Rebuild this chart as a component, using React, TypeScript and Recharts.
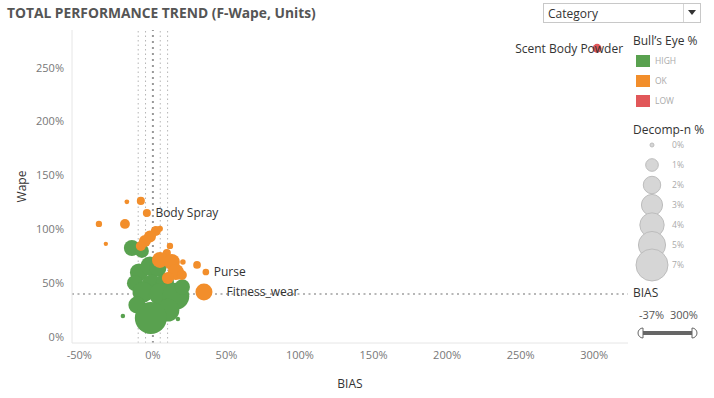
import { ScatterChart, Scatter, XAxis, YAxis, ZAxis, ReferenceLine } from "recharts";

// bias %, wape %, decomp-n % (bubble size), optional category label
type Pt = { bias: number; wape: number; decomp: number; name?: string };

const HIGH: Pt[] = [
	{ bias: -14.3, wape: 82.7, decomp: 1.67 },
	{ bias: -7.5, wape: 80, decomp: 1.25 },
	{ bias: -9.5, wape: 60, decomp: 2.15 },
	{ bias: -12.2, wape: 50, decomp: 1.67 },
	{ bias: -2, wape: 66, decomp: 2.4 },
	{ bias: 3.4, wape: 64, decomp: 1.9 },
	{ bias: -0.7, wape: 48.3, decomp: 2.9 },
	{ bias: 8.2, wape: 51, decomp: 2.15 },
	{ bias: -6.8, wape: 41.8, decomp: 2.9 },
	{ bias: 4.8, wape: 40, decomp: 3.25 },
	{ bias: 15.6, wape: 38, decomp: 4.9 },
	{ bias: 10.2, wape: 25, decomp: 3.5 },
	{ bias: -10.9, wape: 29.7, decomp: 1.9 },
	{ bias: 20, wape: 46.5, decomp: 1.5 },
	{ bias: -1.4, wape: 17.7, decomp: 7 },
	{ bias: -20.4, wape: 19.5, decomp: 0.03 },
	{ bias: 17, wape: 16.7, decomp: 0.03 },
];

const OK: Pt[] = [
	{ bias: -8.2, wape: 126.4, decomp: 0.34 },
	{ bias: -17.7, wape: 125.5, decomp: 0.05 },
	{ bias: -4.1, wape: 115.2, decomp: 0.34, name: "Body Spray" },
	{ bias: -36.7, wape: 105, decomp: 0.17 },
	{ bias: -19, wape: 105, decomp: 0.56 },
	{ bias: -32, wape: 86.5, decomp: 0.02 },
	{ bias: 2, wape: 98.5, decomp: 0.58 },
	{ bias: 4.8, wape: 100.5, decomp: 0.13 },
	{ bias: -2, wape: 93.4, decomp: 0.89 },
	{ bias: -5.4, wape: 89.2, decomp: 0.89 },
	{ bias: -8.2, wape: 84.6, decomp: 0.58 },
	{ bias: 11.6, wape: 84.6, decomp: 0.17 },
	{ bias: 9.5, wape: 78, decomp: 0.34 },
	{ bias: 4.8, wape: 71.6, decomp: 1.67 },
	{ bias: 12.9, wape: 69.7, decomp: 1.67 },
	{ bias: 15.6, wape: 60.4, decomp: 1.67 },
	{ bias: 10.2, wape: 54.8, decomp: 0.89 },
	{ bias: 19.7, wape: 57.6, decomp: 0.58 },
	{ bias: 20.4, wape: 69.7, decomp: 0.1 },
	{ bias: 30, wape: 67, decomp: 0.3 },
	{ bias: 36, wape: 60.4, decomp: 0.2, name: "Purse" },
	{ bias: 34.7, wape: 41.8, decomp: 1.9, name: "Fitness_wear" },
];

const LOW: Pt[] = [{ bias: 302, wape: 268, decomp: 0.44, name: "Scent Body Powder" }];

const xTicks = [-50, 0, 50, 100, 150, 200, 250, 300];
const yTicks = [0, 50, 100, 150, 200, 250];
const biasBands = [-10, -5, 5, 10];

const colorLegend = [
	{ label: "HIGH", color: "#59a14f" },
	{ label: "OK", color: "#f28e2b" },
	{ label: "LOW", color: "#e15759" },
];
const sizeLegend = [0, 1, 2, 3, 4, 5, 7];

const FONT = "'Open Sans', sans-serif";
const Z_RANGE: [number, number] = [12.6, 804];

const areaFor = (v: number) => Z_RANGE[0] + (v / 7) * (Z_RANGE[1] - Z_RANGE[0]);

// extra gap between bubble edge and its label
const labelGap: Record<string, number> = { "Fitness_wear": 14 };

function Bubble(props: any) {
	const { cx, cy, fill, payload, width } = props;
	const r = width ? width / 2 : 3;
	const name = payload?.name;
	let label = null;
	if (name) {
		const isEnd = name === "Scent Body Powder";
		label = (
			<text
				x={isEnd ? cx + 26 : cx + r + (labelGap[name] ?? 4.5)}
				y={cy}
				dy="0.35em"
				textAnchor={isEnd ? "end" : "start"}
				fontSize={12}
				fill="#333"
				fontFamily={FONT}
			>
				{name}
			</text>
		);
	}
	return (
		<g>
			<circle cx={cx} cy={cy} r={r} fill={fill} />
			{label}
		</g>
	);
}

export default function App() {
	return (
		<div
			style={{
				position: "absolute",
				left: 0,
				top: 0,
				width: 714,
				height: 398,
				background: "#fff",
				fontFamily: FONT,
				overflow: "hidden",
			}}
		>
			<div
				style={{
					position: "absolute",
					left: 7,
					top: 3,
					fontSize: 13.8,
					fontWeight: 700,
					color: "#555",
				}}
			>
				TOTAL PERFORMANCE TREND (F-Wape, Units)
			</div>

			<ScatterChart
				width={714}
				height={398}
				margin={{ top: 30, right: 86, bottom: 30, left: 0 }}
			>
				<XAxis
					type="number"
					dataKey="bias"
					domain={[-55, 323]}
					ticks={xTicks}
					tickFormatter={(v) => `${v}%`}
					axisLine={{ stroke: "#e6e6e6" }}
					tickLine={false}
					tick={{ fontSize: 11, fill: "#777", fontFamily: FONT }}
					height={25}
					label={{
						value: "BIAS",
						position: "insideBottom",
						offset: -20,
						fontSize: 12,
						fill: "#333",
						fontFamily: FONT,
					}}
				/>
				<YAxis
					type="number"
					dataKey="wape"
					domain={[-5.5, 285]}
					ticks={yTicks}
					tickFormatter={(v) => `${v}%`}
					axisLine={{ stroke: "#e6e6e6" }}
					tickLine={false}
					tick={{ fontSize: 11, fill: "#777", fontFamily: FONT }}
					width={72}
					label={{
						value: "Wape",
						angle: -90,
						position: "insideLeft",
						offset: 22,
						fontSize: 12,
						fill: "#333",
						fontFamily: FONT,
						style: { textAnchor: "middle" },
					}}
				/>
				<ZAxis type="number" dataKey="decomp" domain={[0, 7]} range={Z_RANGE} />
				<Scatter data={HIGH} fill="#59a14f" shape={Bubble} isAnimationActive={false} />
				<Scatter data={OK} fill="#f28e2b" shape={Bubble} isAnimationActive={false} />
				<Scatter data={LOW} fill="#e15759" shape={Bubble} isAnimationActive={false} />
				{biasBands.map((b) => (
					<ReferenceLine
						key={b}
						x={b}
						stroke="#b5b5b5"
						strokeWidth={1}
						strokeDasharray="1.5 3"
					/>
				))}
				<ReferenceLine x={0} stroke="#999" strokeWidth={2} strokeDasharray="2 4" />
				<ReferenceLine y={40} stroke="#a0a0a0" strokeWidth={1.5} strokeDasharray="2 3.5" />
			</ScatterChart>

			{/* Category dropdown */}
			<div
				style={{
					position: "absolute",
					left: 543,
					top: 3,
					width: 156,
					height: 18,
					border: "1px solid #c8c8c8",
					fontSize: 12,
					color: "#333",
					boxSizing: "content-box",
				}}
			>
				<span style={{ position: "absolute", left: 4, top: 1 }}>Category</span>
				<div
					style={{
						position: "absolute",
						left: 139,
						top: 0,
						width: 1,
						height: 18,
						background: "#d5d5d5",
					}}
				/>
				<svg style={{ position: "absolute", left: 144, top: 6 }} width={9} height={6}>
					<path d="M0,0 L8,0 L4,5 Z" fill="#333" />
				</svg>
			</div>

			{/* Bull's Eye legend */}
			<div style={{ position: "absolute", left: 633, top: 32, fontSize: 12, color: "#333" }}>
				Bull’s Eye %
			</div>
			{colorLegend.map((c, i) => (
				<div key={c.label}>
					<div
						style={{
							position: "absolute",
							left: 636,
							top: 55 + i * 20,
							width: 14,
							height: 12,
							background: c.color,
						}}
					/>
					<div
						style={{
							position: "absolute",
							left: 655,
							top: 55 + i * 20,
							fontSize: 8.5,
							color: "#aaa",
							lineHeight: "12px",
						}}
					>
						{c.label}
					</div>
				</div>
			))}

			{/* Decomp-n size legend */}
			<div style={{ position: "absolute", left: 633, top: 121, fontSize: 12, color: "#333" }}>
				Decomp-n %
			</div>
			<svg style={{ position: "absolute", left: 630, top: 135 }} width={45} height={150}>
				{sizeLegend.map((v, i) => {
					const r = Math.sqrt(areaFor(v) / Math.PI);
					return (
						<circle
							key={v}
							cx={22}
							cy={10 + i * 20}
							r={r}
							fill="#d6d6d6"
							stroke="#bdbdbd"
							strokeWidth={1}
						/>
					);
				})}
			</svg>
			{sizeLegend.map((v, i) => (
				<div
					key={v}
					style={{
						position: "absolute",
						left: 672,
						top: 139 + i * 20,
						fontSize: 8.5,
						color: "#aaa",
						lineHeight: "12px",
					}}
				>
					{v}%
				</div>
			))}

			{/* BIAS filter */}
			<div style={{ position: "absolute", left: 633, top: 284, fontSize: 12, color: "#333" }}>
				BIAS
			</div>
			<div style={{ position: "absolute", left: 639, top: 307, fontSize: 11, color: "#555" }}>
				-37%&nbsp;&nbsp;300%
			</div>
			<svg style={{ position: "absolute", left: 634, top: 326 }} width={70} height={14}>
				<rect x={5} y={5} width={57} height={4} fill="#666" />
				<path d="M9,2 A5,5 0 0 0 9,12 Z" fill="#fff" stroke="#666" strokeWidth={1} />
				<path d="M58,2 A5,5 0 0 1 58,12 Z" fill="#fff" stroke="#666" strokeWidth={1} />
			</svg>
		</div>
	);
}
